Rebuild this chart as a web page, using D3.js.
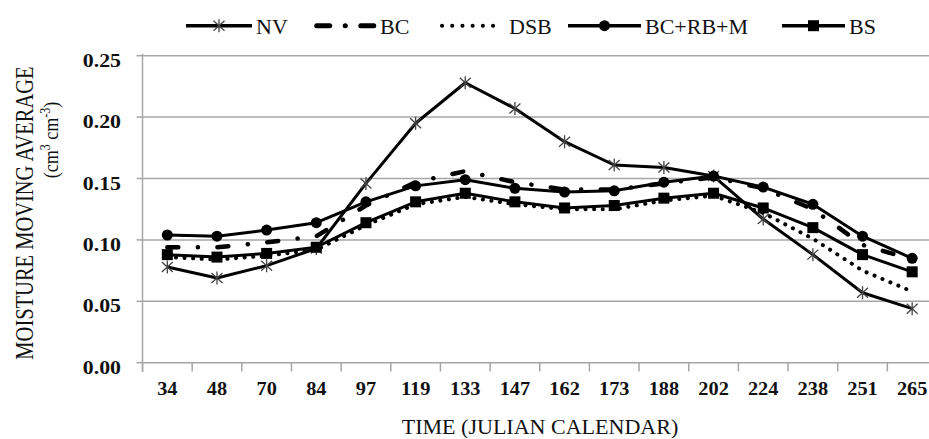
<!DOCTYPE html>
<html><head><meta charset="utf-8">
<script src="https://cdn.jsdelivr.net/npm/d3@7"></script>
<style>
body{margin:0;background:#fff}
svg{display:block}
</style>
</head><body>
<svg id="chart" width="929" height="439" font-family="'Liberation Serif', 'DejaVu Serif', serif"></svg>
<script>
// ---- data ----
const categories = ["34","48","70","84","97","119","133","147","162","173","188","202","224","238","251","265"];
const nv    = [0.078,0.069,0.079,0.093,0.146,0.195,0.228,0.207,0.180,0.161,0.159,0.152,0.117,0.088,0.057,0.044];
const bc    = [0.094,0.094,0.098,0.103,0.128,0.147,0.156,0.147,0.141,0.141,0.146,0.151,0.142,0.125,0.096,0.084];
const dsb   = [0.086,0.084,0.087,0.092,0.112,0.129,0.135,0.129,0.125,0.125,0.132,0.136,0.122,0.101,0.075,0.058];
const bcrbm = [0.104,0.103,0.108,0.114,0.131,0.144,0.149,0.142,0.139,0.140,0.147,0.152,0.143,0.129,0.103,0.085];
const bs    = [0.088,0.086,0.089,0.094,0.114,0.131,0.138,0.131,0.126,0.128,0.134,0.138,0.126,0.110,0.088,0.074];
const seriesNames = ["NV","BC","DSB","BC+RB+M","BS"];
const yTicks = [0,0.05,0.10,0.15,0.20,0.25];
const yTitle = "MOISTURE MOVING AVERAGE";
const xTitle = "TIME (JULIAN CALENDAR)";

const FONT = "'Liberation Serif', 'DejaVu Serif', serif";
const svg = d3.select("#chart");
const W = 929;
const x = d3.scaleBand().domain(categories).range([142.5, 937]).padding(0);
const cx = c => x(c) + x.bandwidth()/2;
const y = d3.scaleLinear().domain([0,0.25]).range([362.7, 55.7]);
const grid = "#a6a6a6";
const txt = sel => sel.attr("font-family",FONT).attr("fill","#111");

// gridlines
svg.append("g").selectAll("line").data(yTicks.filter(d=>d>0)).join("line")
  .attr("x1",142.5).attr("x2",W).attr("y1",d=>y(d)).attr("y2",d=>y(d))
  .attr("stroke",grid).attr("stroke-width",1.5);

// y axis
svg.append("line").attr("x1",142.5).attr("x2",142.5).attr("y1",y(0.25)-2).attr("y2",372)
  .attr("stroke",grid).attr("stroke-width",1.5);
svg.append("g").selectAll("line").data(yTicks).join("line")
  .attr("x1",136.5).attr("x2",142.5).attr("y1",d=>y(d)).attr("y2",d=>y(d))
  .attr("stroke",grid).attr("stroke-width",1.5);
svg.append("g").selectAll("text").data(yTicks).join("text")
  .call(txt)
  .attr("transform",d=>`translate(121,${y(d)+11}) scale(1.15,1)`)
  .attr("text-anchor","end").attr("font-weight","bold").attr("font-size",19)
  .text(d3.format(".2f"));

// x axis
svg.append("line").attr("x1",142.5).attr("x2",W).attr("y1",y(0)).attr("y2",y(0))
  .attr("stroke",grid).attr("stroke-width",1.5);
const bounds = categories.map(c=>x(c)).concat([x(categories[categories.length-1])+x.bandwidth()]);
svg.append("g").selectAll("line").data(bounds).join("line")
  .attr("x1",d=>d).attr("x2",d=>d).attr("y1",y(0)).attr("y2",371.5)
  .attr("stroke",grid).attr("stroke-width",1.5);
svg.append("g").selectAll("text").data(categories).join("text")
  .call(txt)
  .attr("transform",c=>`translate(${cx(c)},395) scale(1.1,1)`)
  .attr("text-anchor","middle").attr("font-weight","bold").attr("font-size",18.5)
  .text(c=>c);

// titles
svg.append("text").call(txt).attr("transform","translate(540,434) scale(1.05,1)")
  .attr("text-anchor","middle").attr("font-size",21).text(xTitle);
svg.append("text").call(txt).attr("transform","translate(33,213) scale(1.25,1) rotate(-90)")
  .attr("text-anchor","middle").attr("font-size",20.5).text(yTitle);
const t2 = svg.append("text").call(txt).attr("transform","translate(58,140) scale(1.2,1) rotate(-90)")
  .attr("text-anchor","middle").attr("font-size",18);
t2.append("tspan").text("(cm");
t2.append("tspan").attr("dy",-7).attr("font-size",12).text("3");
t2.append("tspan").attr("dy",7).text(" cm");
t2.append("tspan").attr("dy",-7).attr("font-size",12).text("-3");
t2.append("tspan").attr("dy",7).text(")");

// series
const line = d3.line().x((d,i)=>cx(categories[i])).y(d=>y(d));
const starPath = "M0,-6.5L0,6.5M-5.5,-5L5.5,5M-5.5,5L5.5,-5";
const g = svg.append("g");
function drawLine(vals, opts){
  g.append("path").datum(vals).attr("d",line).attr("fill","none")
    .attr("stroke","#000").attr("stroke-width",opts.w||3)
    .attr("stroke-linejoin","round").attr("stroke-linecap",opts.cap||"butt")
    .attr("stroke-dasharray",opts.dash||null);
}
drawLine(nv,{w:3});
g.append("g").selectAll("path").data(nv).join("path")
  .attr("transform",(d,i)=>`translate(${cx(categories[i])},${y(d)})`)
  .attr("d",starPath).attr("stroke","#444").attr("stroke-width",1.3).attr("fill","none");
drawLine(bc,{w:4.5,cap:"round",dash:"11,19.5,0.1,19.5"});
drawLine(dsb,{w:4,cap:"round",dash:"0.1,8.5"});
drawLine(bcrbm,{w:3});
g.append("g").selectAll("circle").data(bcrbm).join("circle")
  .attr("cx",(d,i)=>cx(categories[i])).attr("cy",d=>y(d)).attr("r",5.5).attr("fill","#000");
drawLine(bs,{w:3});
g.append("g").selectAll("rect").data(bs).join("rect")
  .attr("x",(d,i)=>cx(categories[i])-5.5).attr("y",d=>y(d)-5.5)
  .attr("width",11).attr("height",11).attr("fill","#000");

// legend
const ly = 25.7, lt = 34;
const leg = svg.append("g");
const legItems = [
  {x1:186,x2:252,tx:256},
  {x1:316.7,x2:374.7,tx:380},
  {x1:442,x2:503,tx:509},
  {x1:568,x2:641,tx:645},
  {x1:782,x2:845,tx:849}
];
seriesNames.forEach((name,i)=>{
  const it = legItems[i];
  const l = leg.append("line").attr("x1",it.x1).attr("x2",it.x2).attr("y1",ly).attr("y2",ly)
    .attr("stroke","#000").attr("stroke-width",3.5);
  const mid = (it.x1+it.x2)/2;
  if(i===0){
    leg.append("path").attr("transform",`translate(${mid},${ly})`).attr("d",starPath)
      .attr("stroke","#444").attr("stroke-width",1.3).attr("fill","none");
  } else if(i===1){
    l.attr("stroke-width",5).attr("stroke-linecap","round").attr("stroke-dasharray","13,15.5,0.1,15.5");
  } else if(i===2){
    l.attr("stroke-width",4).attr("stroke-linecap","round").attr("stroke-dasharray","0.1,10.1");
  } else if(i===3){
    leg.append("circle").attr("cx",mid).attr("cy",ly).attr("r",5.5).attr("fill","#000");
  } else {
    leg.append("rect").attr("x",mid-5.5).attr("y",ly-5.5).attr("width",11).attr("height",11).attr("fill","#000");
  }
  leg.append("text").call(txt).attr("x",it.tx).attr("y",lt).attr("font-size",22).text(name);
});
</script>
</body></html>
